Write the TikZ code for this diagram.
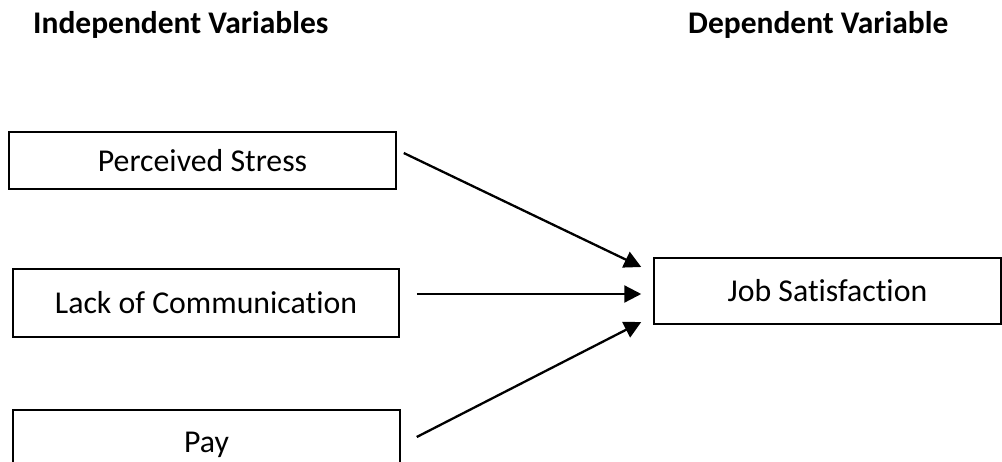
\documentclass[tikz,border=0pt]{standalone}
\usepackage{fontspec}
\setmainfont{Carlito}[RawFeature={-liga}]
\usetikzlibrary{arrows.meta}
\begin{document}
\begin{tikzpicture}[x=1pt,y=-1pt,
  varbox/.style={draw=black, line width=1.5pt, minimum width=#1, inner sep=0pt,
    font=\fontsize{31.8}{38}\selectfont},
  heading/.style={anchor=base west, inner sep=0pt, font=\fontsize{31.5}{38}\selectfont\bfseries},
  link/.style={line width=2.3pt, -{Triangle[length=17pt,width=17pt]}}]
\useasboundingbox (0,0) rectangle (1002,461);
\clip (0,0) rectangle (1002,461);
\fill[white] (0,0) rectangle (1002,461);
\node[heading] (hind) at (33,33) {Independent Variables};
\node[heading] (hdep) at (688,33) {Dependent Variable};
\node[varbox=387pt, minimum height=57pt] (ps) at (202.5,160.5) {Perceived Stress};
\node[varbox=386pt, minimum height=68pt] (lc) at (206,303) {Lack of Communication};
\node[varbox=387pt, minimum height=70pt] (pay) at (206.5,445) {Pay};
\node[varbox=347pt, minimum height=66pt] (js) at (827.5,291) {Job Satisfaction};
\coordinate (s1) at ([shift={(7,-7.5)}]ps.east);
\coordinate (s2) at ([shift={(17,-9)}]lc.east);
\coordinate (s3) at ([shift={(16,-8)}]pay.east);
\coordinate (t1) at ([shift={(-12,-24)}]js.west);
\coordinate (t2) at ([shift={(-12,3)}]js.west);
\coordinate (t3) at ([shift={(-12,31)}]js.west);
\draw[link] (s1) -- (t1);
\draw[link] (s2) -- (t2);
\draw[link] (s3) -- (t3);
\end{tikzpicture}
\end{document}
